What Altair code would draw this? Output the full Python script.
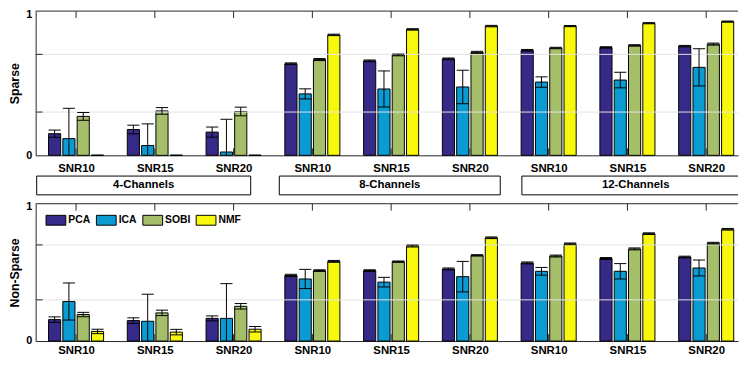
import json
import altair as alt
import pandas as pd

# ---------------- data ----------------
methods = ["PCA", "ICA", "SOBI", "NMF"]
snr_labels = ["SNR10", "SNR15", "SNR20"]
channel_labels = ["4-Channels", "8-Channels", "12-Channels"]
panel_titles = ["Sparse", "Non-Sparse"]

# Sparse panel: mean values (9 groups: 4/8/12 channels x SNR10/15/20)
sparse_pca = [0.150, 0.179, 0.161, 0.635, 0.655, 0.669, 0.728, 0.748, 0.757]
sparse_ica = [0.116, 0.068, 0.023, 0.426, 0.460, 0.474, 0.508, 0.522, 0.610]
sparse_sobi = [0.270, 0.308, 0.304, 0.664, 0.696, 0.714, 0.744, 0.762, 0.771]
sparse_nmf = [0.000, 0.000, 0.000, 0.835, 0.873, 0.896, 0.896, 0.916, 0.927]
# Sparse panel: error half-widths
sparse_pca_err = [0.025, 0.030, 0.035, 0.006, 0.006, 0.006, 0.006, 0.005, 0.005]
sparse_ica_err = [0.210, 0.150, 0.227, 0.035, 0.125, 0.116, 0.036, 0.054, 0.129]
sparse_sobi_err = [0.027, 0.023, 0.030, 0.007, 0.006, 0.007, 0.005, 0.005, 0.007]
sparse_nmf_err = [0.000, 0.000, 0.000, 0.005, 0.005, 0.005, 0.004, 0.004, 0.004]

# Non-Sparse panel
nons_pca = [0.156, 0.149, 0.165, 0.478, 0.513, 0.525, 0.569, 0.601, 0.612]
nons_ica = [0.288, 0.144, 0.165, 0.452, 0.429, 0.469, 0.508, 0.508, 0.532]
nons_sobi = [0.193, 0.205, 0.253, 0.513, 0.578, 0.624, 0.619, 0.671, 0.713]
nons_nmf = [0.070, 0.065, 0.086, 0.580, 0.692, 0.752, 0.708, 0.782, 0.814]
nons_pca_err = [0.020, 0.020, 0.018, 0.008, 0.006, 0.007, 0.007, 0.007, 0.006]
nons_ica_err = [0.135, 0.197, 0.253, 0.070, 0.035, 0.111, 0.028, 0.056, 0.058]
nons_sobi_err = [0.016, 0.020, 0.020, 0.006, 0.005, 0.005, 0.007, 0.007, 0.006]
nons_nmf_err = [0.016, 0.020, 0.020, 0.007, 0.007, 0.006, 0.006, 0.006, 0.006]

grid_values = [0.3, 0.7]
y_ticks = [0, 0.3, 0.7, 1]

# ---------------- layout / style ----------------
colors = ["#352A87", "#0A9BD2", "#A5BE6A", "#F8F80C"]
FONT = "Liberation Sans"
AX = "#262626"
X_MIN, X_MAX = -0.513, 8.404
BAR_STEP = 0.1816
BAR_HALF = 0.077
W = 711
H_TOP, H_MID, H_BOT = 146, 49, 139
# annotation boxes (in group units)
box_start = [-0.50, 2.58, 5.66]
box_end = [2.217, 5.385, 8.55]

n_groups = len(snr_labels) * len(channel_labels)
xscale = alt.Scale(domain=[X_MIN, X_MAX], nice=False, zero=False)
yscale = alt.Scale(domain=[0, 1], nice=False)


def panel_df(vals, errs):
    rows = []
    for mi, m in enumerate(methods):
        for g in range(n_groups):
            c = g + (mi - 1.5) * BAR_STEP
            v, e = vals[mi][g], errs[mi][g]
            rows.append(dict(method=m, group=g, xc=c, x0=c - BAR_HALF,
                             x1=c + BAR_HALF, value=v, lo=v - e, hi=v + e))
    return pd.DataFrame(rows)


label_expr = json.dumps(snr_labels) + "[datum.value % 3]"


def panel(df, title, height, legend, xpad):
    xaxis = alt.Axis(values=list(range(n_groups)), labelExpr=label_expr,
                     tickSize=0, grid=False, domainColor=AX, labelColor="black",
                     labelFont=FONT, labelFontWeight="bold", labelFontSize=11.5,
                     labelPadding=xpad, title=None)
    yaxis = alt.Axis(values=y_ticks,
                     labelExpr="datum.value == 0 ? '0' : (datum.value == 1 ? '1' : '')",
                     tickSize=0, grid=False, domainColor=AX,
                     labelColor="black", labelFont=FONT, labelFontWeight="bold",
                     labelFontSize=11, labelPadding=4,
                     labelOffset={"condition": {"test": "datum.value == 1", "value": 3},
                                  "value": 0},
                     title=title, titleFont=FONT, titleFontWeight="bold",
                     titleFontSize=12.5, titleColor="black", titlePadding=4)
    gdf = pd.DataFrame({"g": list(range(n_groups))})
    ydf = pd.DataFrame({"t": grid_values})
    grid = alt.Chart(ydf).mark_rule(color="#E3E3E3").encode(
        y=alt.Y("t:Q", scale=yscale, axis=None), x=alt.value(0), x2=alt.value(W))
    top_ticks = alt.Chart(gdf).mark_rule(color=AX).encode(
        x=alt.X("g:Q", scale=xscale, axis=None), y=alt.value(0), y2=alt.value(7))
    bot_ticks = alt.Chart(gdf).mark_rule(color=AX).encode(
        x=alt.X("g:Q", scale=xscale, axis=None), y=alt.value(height - 7),
        y2=alt.value(height))
    left_ticks = alt.Chart(ydf).mark_rule(color=AX).encode(
        y=alt.Y("t:Q", scale=yscale, axis=None), x=alt.value(0), x2=alt.value(7))
    top_line = alt.Chart(pd.DataFrame({"v": [1]})).mark_rule(color=AX).encode(
        y=alt.Y("v:Q", scale=yscale, axis=None), x=alt.value(0), x2=alt.value(W))

    bars = alt.Chart(df).mark_bar(stroke="black", strokeWidth=1).encode(
        x=alt.X("x0:Q", scale=xscale, axis=xaxis), x2="x1:Q",
        y=alt.Y("value:Q", scale=yscale, axis=yaxis), y2=alt.datum(0),
        color=alt.Color("method:N", scale=alt.Scale(domain=methods, range=colors),
                        legend=legend),
    )
    stems = alt.Chart(df).mark_rule(color="black", strokeWidth=1, clip=True).encode(
        x=alt.X("xc:Q", scale=xscale, axis=None),
        y=alt.Y("lo:Q", scale=yscale, axis=None), y2="hi:Q")
    caps_hi = alt.Chart(df).mark_rule(color="black", strokeWidth=1, clip=True).encode(
        x=alt.X("x0:Q", scale=xscale, axis=None), x2="x1:Q",
        y=alt.Y("hi:Q", scale=yscale, axis=None))
    caps_lo = alt.Chart(df).mark_rule(color="black", strokeWidth=1, clip=True).encode(
        x=alt.X("x0:Q", scale=xscale, axis=None), x2="x1:Q",
        y=alt.Y("lo:Q", scale=yscale, axis=None))
    return alt.layer(bars, grid, top_ticks, bot_ticks, left_ticks, stems, caps_hi,
                     caps_lo, top_line).resolve_axis(
        x="independent", y="independent").properties(width=W, height=height)


sparse_df = panel_df([sparse_pca, sparse_ica, sparse_sobi, sparse_nmf],
                     [sparse_pca_err, sparse_ica_err, sparse_sobi_err, sparse_nmf_err])
nons_df = panel_df([nons_pca, nons_ica, nons_sobi, nons_nmf],
                   [nons_pca_err, nons_ica_err, nons_sobi_err, nons_nmf_err])

legend = alt.Legend(orient="none", legendX=10, legendY=6, direction="horizontal",
                    title=None, symbolType="M-1,-0.5H1V0.5H-1Z", symbolSize=400,
                    symbolStrokeColor="black", symbolStrokeWidth=1, symbolOpacity=1,
                    labelFont=FONT, labelFontWeight="bold", labelFontSize=10.5,
                    labelColor="black", labelOffset=2, columnPadding=3, padding=0)

top = panel(sparse_df, panel_titles[0], H_TOP, None, 7)
bot = panel(nons_df, panel_titles[1], H_BOT, legend, 4)

box_df = pd.DataFrame({"s": box_start, "e": box_end, "label": channel_labels,
                       "c": [(a + b) / 2 for a, b in zip(box_start, box_end)]})
boxes = alt.Chart(box_df).mark_rect(fill="white", stroke="black", strokeWidth=1,
                                    clip=True).encode(
    x=alt.X("s:Q", scale=xscale, axis=None), x2="e:Q",
    y=alt.value(21), y2=alt.value(40))
box_text = alt.Chart(box_df).mark_text(font=FONT, fontWeight="bold", fontSize=11.5,
                                       color="black", baseline="middle").encode(
    x=alt.X("c:Q", scale=xscale, axis=None), y=alt.value(30.5), text="label:N")
mid = alt.layer(boxes, box_text).properties(width=W, height=H_MID)

chart = alt.vconcat(top, mid, bot, spacing=0, bounds="flush").resolve_scale(
    color="independent").properties(
    padding={"left": 0, "top": -2, "right": 0, "bottom": -3}
).configure_view(stroke=None)

chart.save("out.html", embed_options={"renderer": "svg", "actions": False})
